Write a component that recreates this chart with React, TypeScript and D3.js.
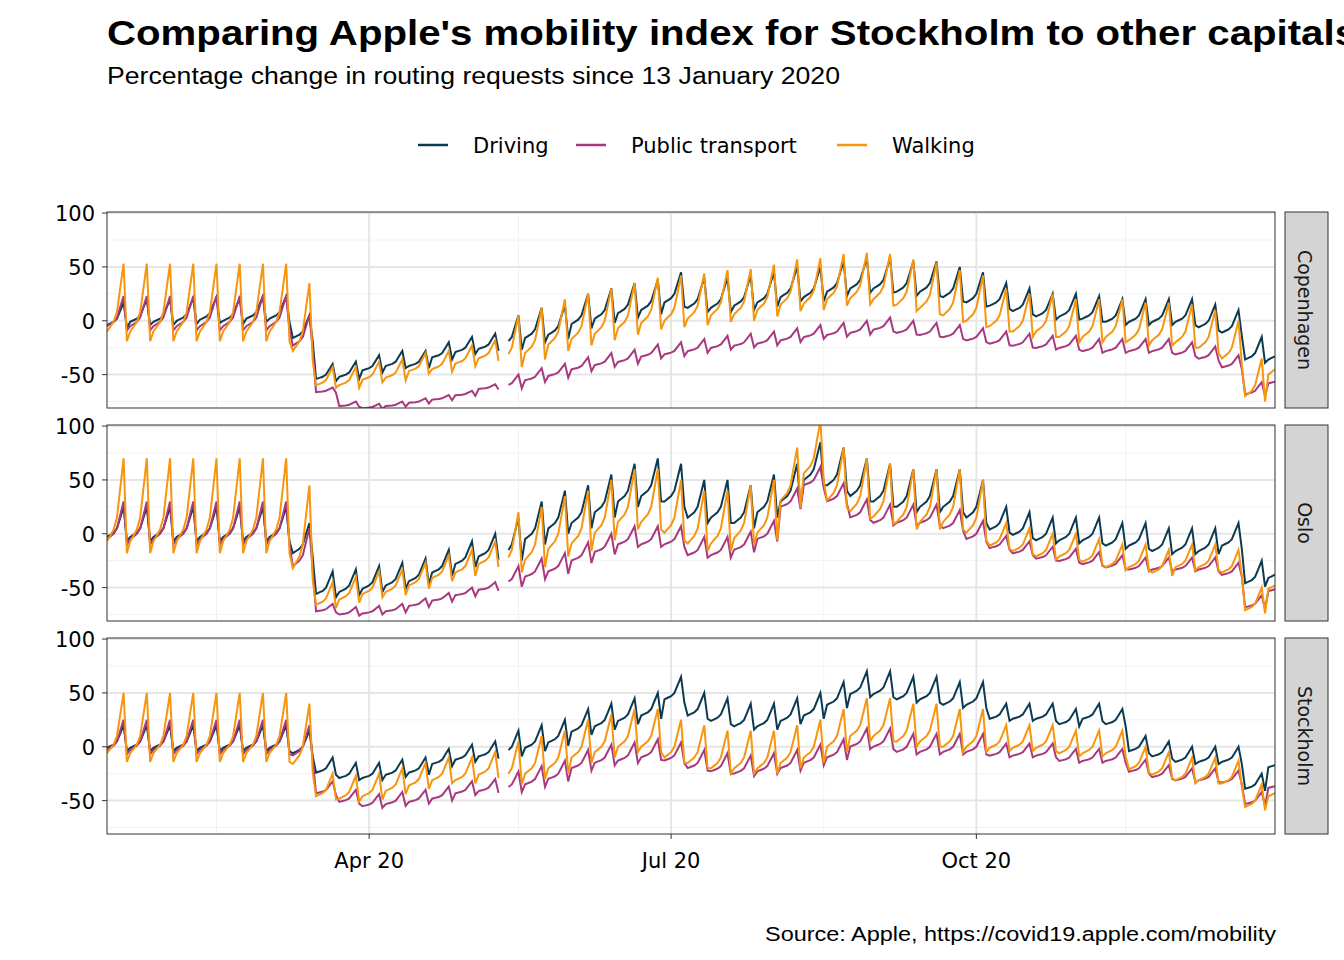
import React from "react";
import * as d3 from "d3";

// weekly means (weeks starting Mon 13 Jan 2020), index % change
const cities = ["Copenhagen", "Oslo", "Stockholm"];
const seriesNames = ["Driving", "Public transport", "Walking"];
const colors = ["#0b3a52", "#a8387f", "#f7950f"];

const cphDriving = [2,5,5,6,7,6,8,8,-10,-50,-48,-42,-38,-38,-30,-25,-22,-15,-8,-5,5,10,15,18,25,20,20,22,25,30,30,35,38,38,35,35,30,25,20,15,10,10,8,5,5,5,5,0,-5,-30,-30];
const cphPublic = [3,3,3,3,3,3,3,3,-15,-65,-78,-80,-78,-75,-72,-68,-62,-58,-52,-48,-42,-38,-35,-30,-28,-25,-22,-20,-18,-15,-12,-10,-8,-5,-8,-10,-12,-15,-18,-20,-22,-22,-25,-25,-25,-25,-28,-32,-40,-65,-55];
const cphWalking = [8,8,8,8,8,8,8,8,-10,-55,-55,-50,-48,-42,-40,-35,-30,-25,-18,-10,-5,0,5,10,12,14,17,18,22,27,28,32,33,32,27,24,17,12,5,0,0,-5,-5,-5,-8,-8,-10,-15,-25,-60,-40];
const osloDriving = [5,5,5,5,5,5,5,5,-10,-50,-48,-45,-42,-38,-30,-22,-15,-10,5,15,20,30,40,45,40,25,25,20,30,40,60,55,45,40,35,35,35,25,10,5,0,0,0,-5,-5,-10,-10,-10,-5,-40,-35];
const osloPublic = [5,5,5,5,5,5,5,5,-20,-70,-73,-72,-70,-65,-60,-55,-50,-42,-35,-30,-20,-12,-5,-5,-5,-15,-15,-10,0,30,50,35,20,15,15,15,10,0,-10,-15,-20,-22,-25,-28,-30,-30,-30,-30,-35,-65,-50];
const osloWalking = [15,15,15,15,15,15,15,15,-10,-60,-55,-50,-48,-42,-35,-30,-22,-15,-10,0,5,15,25,25,15,5,5,10,15,45,70,45,35,30,25,25,25,15,-5,-10,-15,-15,-20,-25,-25,-30,-25,-25,-30,-65,-45];
const sthDriving = [5,5,5,5,5,5,5,5,0,-20,-25,-25,-22,-20,-12,-8,-5,0,5,10,20,25,30,35,50,35,30,25,25,30,35,45,55,55,50,50,45,45,30,30,30,25,30,25,0,-5,-10,-10,-10,-35,-15];
const sthPublic = [5,5,5,5,5,5,5,5,0,-40,-48,-52,-50,-48,-45,-40,-38,-35,-30,-25,-15,-10,-8,-5,-8,-15,-18,-20,-18,-15,-10,-5,5,5,0,0,0,0,-5,-5,-5,-10,-10,-10,-20,-25,-28,-28,-30,-50,-35];
const sthWalking = [10,10,10,10,10,10,10,10,0,-40,-42,-40,-35,-30,-25,-25,-20,-20,-15,-10,0,5,10,10,0,-5,-10,-10,-10,-5,0,10,20,20,15,15,10,10,5,5,5,0,0,0,-15,-20,-25,-25,-28,-50,-40];

// weekday swing amplitude per phase: pre-lockdown, lockdown, summer, autumn
const amps = [
  [[15,10,20,15],[20,3,8,8],[45,12,30,25]],
  [[20,15,25,15],[25,5,12,8],[55,15,35,15]],
  [[15,10,15,10],[20,8,12,8],[40,15,25,15]],
];
const weekdayShape = [-0.4,-0.3,-0.2,0,0.5,1,-0.6];
const means = [
  [cphDriving, cphPublic, cphWalking],
  [osloDriving, osloPublic, osloWalking],
  [sthDriving, sthPublic, sthWalking],
];
const missingDays = [119, 120];
const nDays = 353;
const start = new Date(2020, 0, 13);

function phase(w: number) { return w < 9 ? 0 : w < 17 ? 1 : w < 38 ? 2 : 3; }
function buildSeries(ci: number, si: number) {
  const m = means[ci][si];
  const out: { date: Date; v: number | null }[] = [];
  for (let d = 0; d < nDays; d++) {
    const w = Math.floor(d / 7);
    const v = missingDays.includes(d) ? null : m[w] + amps[ci][si][phase(w)] * weekdayShape[d % 7];
    out.push({ date: d3.timeDay.offset(start, d), v });
  }
  return out;
}

export default function App() {
  const W = 1344, H = 960;
  const x0 = 107, x1 = 1275;
  const panelTops = [212, 425, 638];
  const ph = 196;
  const x = d3.scaleTime().domain([start, d3.timeDay.offset(start, nDays - 1)]).range([x0, x1]);
  const font = "Liberation Sans, Arial, sans-serif";
  const wide = "DejaVu Sans, sans-serif";
  const xMajor = [new Date(2020, 3, 1), new Date(2020, 6, 1), new Date(2020, 9, 1)];
  const xMinor = [new Date(2020, 1, 15), new Date(2020, 4, 16), new Date(2020, 7, 16), new Date(2020, 10, 15)];
  const xLabels = ["Apr 20", "Jul 20", "Oct 20"];
  const yMajor = [100, 50, 0, -50];
  const yMinor = [75, 25, -25, -75];
  return (
    <svg width={W} height={H} style={{ display: "block", position: "absolute", left: 0, top: 0 }} fontFamily={font}>
      <rect width={W} height={H} fill="white" />
      <text x={107} y={45} fontSize={35} fontWeight="bold" textLength={1250} lengthAdjust="spacingAndGlyphs">Comparing Apple's mobility index for Stockholm to other capitals</text>
      <text x={107} y={84} fontSize={23} textLength={733} lengthAdjust="spacingAndGlyphs">Percentage change in routing requests since 13 January 2020</text>
      {seriesNames.map((s, i) => {
        const lx = [418, 576, 837][i];
        return (
          <g key={s}>
            <line x1={lx} x2={lx + 30} y1={145} y2={145} stroke={colors[i]} strokeWidth={2.5} />
            <text x={lx + 55} y={153} fontSize={21} fontFamily={wide}>{s}</text>
          </g>
        );
      })}
      <defs>
        {panelTops.map((t, i) => (
          <clipPath id={"clip" + i} key={i}><rect x={x0} y={t} width={x1 - x0} height={ph} /></clipPath>
        ))}
      </defs>
      {cities.map((c, ci) => {
        const t = panelTops[ci];
        const y = d3.scaleLinear().domain([-81, 101]).range([t + ph, t]);
        const line = d3.line<{ date: Date; v: number | null }>()
          .defined(d => d.v !== null).x(d => x(d.date)).y(d => y(d.v as number));
        return (
          <g key={c}>
            <rect x={x0} y={t} width={x1 - x0} height={ph} fill="white" />
            {xMinor.map((d, i) => <line key={"xm" + i} x1={x(d)} x2={x(d)} y1={t} y2={t + ph} stroke="#f2f2f2" strokeWidth={1} />)}
            {yMinor.map((v, i) => <line key={"ym" + i} x1={x0} x2={x1} y1={y(v)} y2={y(v)} stroke="#f2f2f2" strokeWidth={1} />)}
            {xMajor.map((d, i) => <line key={"xM" + i} x1={x(d)} x2={x(d)} y1={t} y2={t + ph} stroke="#e6e6e6" strokeWidth={2} />)}
            {yMajor.map((v, i) => <line key={"yM" + i} x1={x0} x2={x1} y1={y(v)} y2={y(v)} stroke="#e6e6e6" strokeWidth={2} />)}
            <g clipPath={`url(#clip${ci})`}>
              {seriesNames.map((s, si) => (
                <path key={s} d={line(buildSeries(ci, si)) || ""} fill="none" stroke={colors[si]} strokeWidth={2} />
              ))}
            </g>
            <rect x={x0} y={t} width={x1 - x0} height={ph} fill="none" stroke="#333" strokeWidth={1} />
            {yMajor.map(v => (
              <g key={v}>
                <line x1={x0 - 5} x2={x0} y1={y(v)} y2={y(v)} stroke="#333" />
                <text x={x0 - 12} y={y(v) + 8} fontSize={21} fontFamily={wide} textAnchor="end">{v}</text>
              </g>
            ))}
            <rect x={1285} y={t} width={43} height={ph} fill="#d4d4d4" stroke="#333" strokeWidth={1} />
            <text transform={`translate(1298,${t + ph / 2}) rotate(90)`} fontSize={19} fontFamily={wide} textAnchor="middle" fill="#1a1a1a">{c}</text>
          </g>
        );
      })}
      {xMajor.map((d, i) => (
        <g key={i}>
          <line x1={x(d)} x2={x(d)} y1={834} y2={839} stroke="#333" />
          <text x={x(d)} y={868} fontSize={21} fontFamily={wide} textAnchor="middle">{xLabels[i]}</text>
        </g>
      ))}
      <text x={1276} y={941} fontSize={20} textAnchor="end" textLength={511} lengthAdjust="spacingAndGlyphs">Source: Apple, https://covid19.apple.com/mobility</text>
    </svg>
  );
}
